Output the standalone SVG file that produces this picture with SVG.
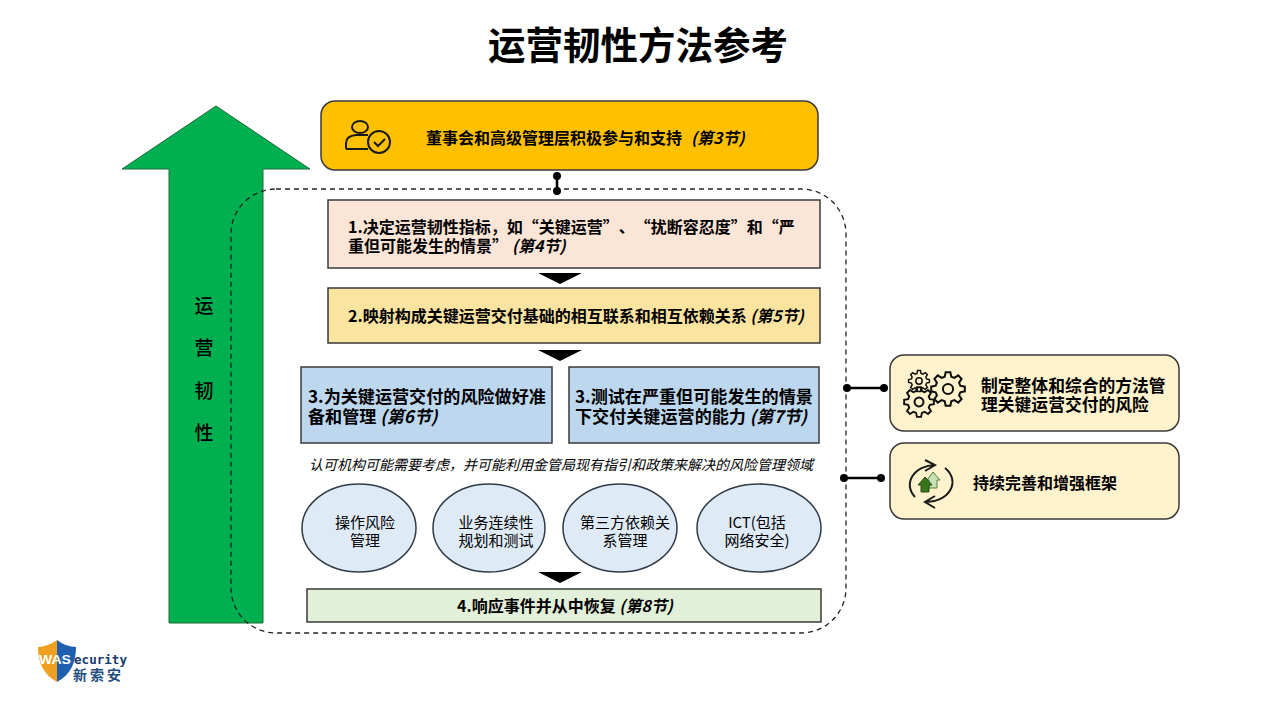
<svg xmlns="http://www.w3.org/2000/svg" width="1280" height="720" viewBox="0 0 1280 720">
<style>
text{font-family:"Noto Sans CJK SC","Liberation Sans",sans-serif;fill:#000;text-spacing-trim:space-all}
.b{font-weight:700;font-size:16px}
.b17{font-weight:700;font-size:17.1px}
.br{font-weight:700;font-size:16.8px}
.i{font-style:italic}
.box{stroke:#3a3a3a;stroke-width:1.5}
.el{fill:#deeaf6;stroke:#2f3b45;stroke-width:1.5}
.c{font-size:15px;text-anchor:middle}
.ln{stroke:#000;stroke-width:2.5;fill:none}
.ic{fill:none;stroke:#1a1a1a;stroke-width:2}
.dot{fill:#000}
.g{fill:none;stroke:#111}
</style>
<defs>
<path id="gear" d="M7.24-1.94L9.9-1.39V1.39L7.24 1.94L6.5 3.75L7.99 6.02L6.02 7.99L3.75 6.5L1.94 7.24L1.39 9.9H-1.39L-1.94 7.24L-3.75 6.5L-6.02 7.99L-7.99 6.02L-6.5 3.75L-7.24 1.94L-9.9 1.39V-1.39L-7.24-1.94L-6.5-3.75L-7.99-6.02L-6.02-7.99L-3.75-6.5L-1.94-7.24L-1.39-9.9H1.39L1.94-7.24L3.75-6.5L6.02-7.99L7.99-6.02L6.5-3.75Z M3 0A3 3 0 1 0-3 0A3 3 0 1 0 3 0Z"/>
</defs>
<rect width="1280" height="720" fill="#fff"/>
<text id="title" x="638" y="59" font-size="37.5" font-weight="700" text-anchor="middle">运营韧性方法参考</text>
<g id="resilience-arrow">
<polygon points="216,106 310,169 263,169 263,623 169,623 169,169 122,169" fill="#00b050" stroke="#1f6b3a" stroke-width="1"/>
<g font-size="19" font-weight="500" text-anchor="middle">
<text x="204" y="313">运</text><text x="204" y="355">营</text><text x="204" y="398">韧</text><text x="204" y="440">性</text>
</g>
</g>
<rect id="framework" x="231" y="189" width="615" height="444" rx="45" fill="none" stroke="#222" stroke-width="1.3" stroke-dasharray="5 4"/>
<g id="connectors">
<path class="ln" d="M557 176V191M847 388H884M844 478H881"/>
<circle class="dot" cx="557" cy="176" r="4"/><circle class="dot" cx="557" cy="191" r="4"/>
<circle class="dot" cx="847" cy="388" r="4"/><circle class="dot" cx="884" cy="388" r="4"/>
<circle class="dot" cx="844" cy="478" r="4"/><circle class="dot" cx="881" cy="478" r="4"/>
<polygon class="dot" points="538,273 582,273 560,284"/>
<polygon class="dot" points="538,350 582,350 560,361"/>
<polygon class="dot" points="538,572 582,572 560,583"/>
</g>
<g id="board">
<rect class="box" x="321" y="101" width="497" height="69" rx="14" fill="#ffc000"/>
<g class="ic"><ellipse cx="360" cy="127" rx="8" ry="6"/><path d="M346 149V143Q346 136 356 135H368M346 149H368"/><circle cx="379" cy="142" r="11"/><path d="M374 142L378 146L385 139"/></g>
<text class="b" x="426" y="144">董事会和高级管理层积极参与和支持<tspan class="i" dx="9">(第3节)</tspan></text>
</g>
<g id="step1">
<rect class="box" x="328" y="200" width="492" height="68" fill="#fbe5d6"/>
<text class="b" x="348" y="233">1.决定运营韧性指标&#xFF0C;如“关键运营”、“扰断容忍度”和“严</text>
<text class="b" x="348" y="252">重但可能发生的情景”<tspan class="i" dx="4">(第4节)</tspan></text>
</g>
<g id="step2">
<rect class="box" x="328" y="288" width="492" height="55" fill="#fbe3a0"/>
<text class="b" x="348" y="322">2.映射构成关键运营交付基础的相互联系和相互依赖关系 <tspan class="i">(第5节)</tspan></text>
</g>
<g id="step3a">
<rect class="box" x="301" y="367" width="251" height="76" fill="#bdd7ee"/>
<text class="b17" x="308" y="403">3.为关键运营交付的风险做好准</text>
<text class="b17" x="308" y="423">备和管理 <tspan class="i">(第6节)</tspan></text>
</g>
<g id="step3b">
<rect class="box" x="569" y="367" width="250" height="76" fill="#bdd7ee"/>
<text class="b17" x="575" y="403">3.测试在严重但可能发生的情景</text>
<text class="b17" x="575" y="423">下交付关键运营的能力 <tspan class="i">(第7节)</tspan></text>
</g>
<text id="note" class="i" x="309" y="470" font-size="14">认可机构可能需要考虑&#xFF0C;并可能利用金管局现有指引和政策来解决的风险管理领域</text>
<g id="area1"><ellipse class="el" cx="359" cy="528" rx="57" ry="44"/><text class="c" x="365" y="528">操作风险</text><text class="c" x="365" y="546">管理</text></g>
<g id="area2"><ellipse class="el" cx="489" cy="528" rx="56" ry="44"/><text class="c" x="496" y="528">业务连续性</text><text class="c" x="496" y="546">规划和测试</text></g>
<g id="area3"><ellipse class="el" cx="620" cy="528" rx="57" ry="44"/><text class="c" x="625" y="528">第三方依赖关</text><text class="c" x="625" y="546">系管理</text></g>
<g id="area4"><ellipse class="el" cx="759" cy="528" rx="62" ry="44"/><text class="c" x="757" y="528">ICT(包括</text><text class="c" x="757" y="546">网络安全)</text></g>
<g id="step4">
<rect class="box" x="307" y="589" width="514" height="33" fill="#e2efd9"/>
<text class="b" x="565" y="612" text-anchor="middle">4.响应事件并从中恢复 <tspan class="i">(第8节)</tspan></text>
</g>
<g id="approach">
<rect class="box" x="890" y="355" width="289" height="76" rx="14" fill="#fff2cc"/>
<use class="g" href="#gear" transform="translate(919 381) scale(1.05)" stroke-width="1.4"/>
<use class="g" href="#gear" transform="translate(948 389) scale(1.7)" stroke-width="1.2"/>
<use class="g" href="#gear" transform="translate(919 402) scale(1.5)" stroke-width="1.3"/>
<text class="br" x="981" y="392">制定整体和综合的方法管</text>
<text class="br" x="981" y="411">理关键运营交付的风险</text>
</g>
<g id="improve">
<rect class="box" x="890" y="443" width="289" height="76" rx="14" fill="#fff2cc"/>
<g class="ic"><path d="M915 497A26 20 0 0 1 935 465M925 460L935 465L925 471"/><path d="M945 468A26 20 0 0 1 925 502M935 496L925 502L935 508"/></g>
<path d="M933 472L940 480H937V488H929V480H927Z" fill="#c5e0b4" stroke="#548235"/>
<path d="M925 477L932 485H929V492H921V485H918Z" fill="#38761d" stroke="#274e13"/>
<text class="b" x="973" y="489">持续完善和增强框架</text>
</g>
<g id="logo">
<path d="M57 640Q47 647 38 647Q38 672 57 682Z" fill="#f0a020"/>
<path d="M57 640Q66 647 76 647Q76 672 57 682Z" fill="#1f5fb0"/>
<text x="39" y="664" font-size="12" font-weight="700" textLength="32" lengthAdjust="spacingAndGlyphs" style="font-family:'Liberation Sans',sans-serif;fill:#fff">WAS</text>
<text x="74" y="664" font-size="12" font-weight="700" textLength="53" lengthAdjust="spacingAndGlyphs" style="font-family:'DejaVu Sans Mono','Liberation Mono',monospace;fill:#1a3a6a">ecurity</text>
<text x="73" y="680" font-size="14" font-weight="700" letter-spacing="3" style="fill:#1f4f80">新索安</text>
</g>
</svg>
